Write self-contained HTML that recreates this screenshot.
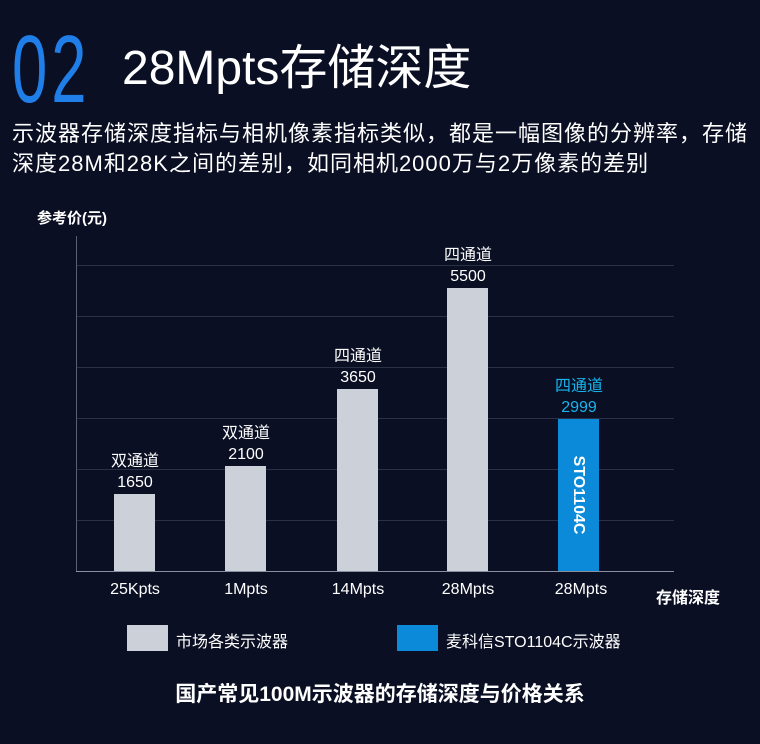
<!DOCTYPE html>
<html><head><meta charset="utf-8"><style>
body{margin:0;width:760px;height:744px;background:#0a0f23;overflow:hidden;position:relative;font-family:"Liberation Sans","Noto Sans CJK SC",sans-serif;color:#fff}
.a{position:absolute;white-space:nowrap}
.g{position:absolute;left:77px;width:597px;height:1px;background:#2a3045}
.bar{position:absolute;background:#ccd0d9;width:41px}
.lb{position:absolute;width:100px;text-align:center;font-size:16px;line-height:21px;color:#fff}
.x{position:absolute;width:100px;text-align:center;font-size:16px;top:581px;color:#fff}
</style></head><body>
<div class="a" style="left:12px;top:22px;font-size:96px;line-height:96px;color:#1f7ee8;font-weight:300;letter-spacing:6px;transform:scaleX(0.66);transform-origin:left">02</div>
<div class="a" style="left:122px;top:38px;font-size:48px;line-height:62px">28Mpts存储深度</div>
<div class="a" style="left:12px;top:119px;font-size:22px;line-height:30px;letter-spacing:1px">示波器存储深度指标与相机像素指标类似，都是一幅图像的分辨率，存储<br>深度28M和28K之间的差别，如同相机2000万与2万像素的差别</div>
<div class="a" style="left:37px;top:207px;font-size:15px;font-weight:bold">参考价(元)</div>
<div style="position:absolute;left:76px;top:236px;width:1px;height:336px;background:#5a6070"></div>
<div class="g" style="top:265px"></div><div class="g" style="top:316px"></div><div class="g" style="top:367px"></div><div class="g" style="top:418px"></div><div class="g" style="top:469px"></div><div class="g" style="top:520px"></div>
<div style="position:absolute;left:76px;top:571px;width:598px;height:1px;background:#8a90a0"></div>
<div class="bar" style="left:114px;top:494px;height:77px"></div>
<div class="bar" style="left:225px;top:466px;height:105px"></div>
<div class="bar" style="left:337px;top:389px;height:182px"></div>
<div class="bar" style="left:447px;top:288px;height:283px"></div>
<div class="bar" style="left:558px;top:419px;height:152px;background:#0a8ad8"></div>
<div class="a" style="left:578px;top:495px;font-size:16px;font-weight:bold;transform:translate(-50%,-50%) rotate(90deg)">STO1104C</div>
<div class="lb" style="left:85px;top:451px">双通道<br>1650</div>
<div class="lb" style="left:196px;top:423px">双通道<br>2100</div>
<div class="lb" style="left:308px;top:346px">四通道<br>3650</div>
<div class="lb" style="left:418px;top:245px">四通道<br>5500</div>
<div class="lb" style="left:529px;top:376px;color:#17b4ee">四通道<br>2999</div>
<div class="x" style="left:85px">25Kpts</div>
<div class="x" style="left:196px">1Mpts</div>
<div class="x" style="left:308px">14Mpts</div>
<div class="x" style="left:418px">28Mpts</div>
<div class="x" style="left:531px">28Mpts</div>
<div class="a" style="left:656px;top:584px;font-size:16px;font-weight:bold">存储深度</div>
<div style="position:absolute;left:127px;top:625px;width:41px;height:26px;background:#ccd0d9"></div>
<div class="a" style="left:176px;top:628px;font-size:16px">市场各类示波器</div>
<div style="position:absolute;left:397px;top:625px;width:41px;height:26px;background:#0a8ad8"></div>
<div class="a" style="left:446px;top:628px;font-size:16px">麦科信STO1104C示波器</div>
<div class="a" style="left:0;width:760px;text-align:center;top:678px;font-size:21px;font-weight:bold">国产常见100M示波器的存储深度与价格关系</div>
</body></html>
